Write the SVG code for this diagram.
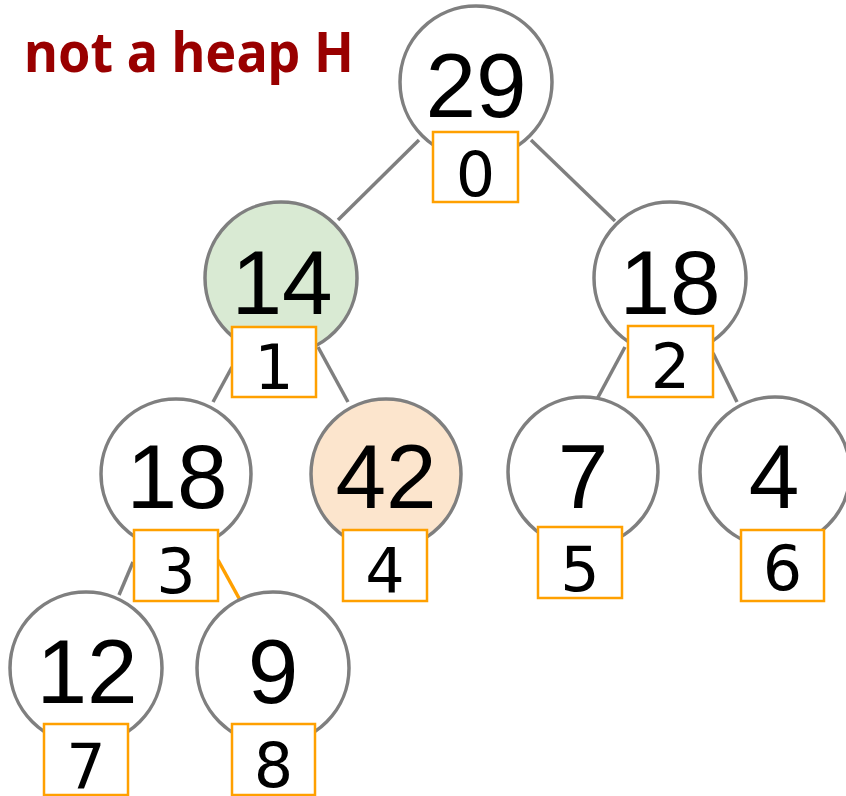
<svg xmlns="http://www.w3.org/2000/svg" width="846" height="796" viewBox="0 0 846 796">
<style>
.c{stroke:#7f7f7f;stroke-width:3.5;fill:#ffffff}
.g{fill:#d9ead3}
.o{fill:#fce5cd}
.b{stroke:#ffa000;stroke-width:2.5;fill:#ffffff}
.v{font-family:"Liberation Sans",Arial,sans-serif;font-size:91px;fill:#000;text-anchor:middle}
.i{font-family:"DejaVu Sans",Verdana,sans-serif;font-size:62px;fill:#000;text-anchor:middle}
.e{stroke:#7f7f7f;stroke-width:3.5;fill:none}
.eo{stroke:#ffa000;stroke-width:3.5;fill:none}
.t{font-family:"Noto Sans","DejaVu Sans",sans-serif;font-weight:bold;font-size:56px;fill:#990000}
</style>
<text class="t" x="24" y="72" textLength="330" lengthAdjust="spacingAndGlyphs">not a heap H</text>
<g id="connectors">
<line class="e" x1="419" y1="140" x2="338" y2="220"/>
<line class="e" x1="531" y1="140" x2="615" y2="221"/>
<line class="e" x1="232" y1="367" x2="213" y2="402"/>
<line class="e" x1="318" y1="347" x2="348" y2="402"/>
<line class="e" x1="625" y1="347" x2="596" y2="401"/>
<line class="e" x1="713" y1="353" x2="737" y2="402"/>
<line class="e" x1="133" y1="562" x2="119" y2="595"/>
<line class="eo" x1="218" y1="560" x2="240" y2="600"/>
</g>
<g id="n0">
<circle class="c" cx="476" cy="82" r="76"/>
<text class="v" x="476" y="117">29</text>
<rect class="b" x="433" y="132" width="85" height="70"/>
<text class="i" x="475.5" y="196">0</text>
</g>
<g id="n1">
<circle class="c g" cx="281" cy="278" r="76"/>
<text class="v" x="282" y="314">14</text>
<rect class="b" x="232" y="327" width="84" height="70"/>
<text class="i" x="274" y="389">1</text>
</g>
<g id="n2">
<circle class="c" cx="670" cy="278" r="76"/>
<text class="v" x="670" y="314">18</text>
<rect class="b" x="628" y="326" width="85" height="71"/>
<text class="i" x="670.5" y="388">2</text>
</g>
<g id="n3">
<circle class="c" cx="176" cy="474" r="75"/>
<text class="v" x="177" y="508">18</text>
<rect class="b" x="134" y="530" width="84" height="71"/>
<text class="i" x="176" y="593">3</text>
</g>
<g id="n4">
<circle class="c o" cx="386" cy="474" r="75"/>
<text class="v" x="386" y="508">42</text>
<rect class="b" x="343" y="530" width="84" height="71"/>
<text class="i" x="385" y="593">4</text>
</g>
<g id="n5">
<circle class="c" cx="583" cy="472" r="75"/>
<text class="v" x="583" y="508">7</text>
<rect class="b" x="538" y="527" width="84" height="71"/>
<text class="i" x="580" y="591">5</text>
</g>
<g id="n6">
<circle class="c" cx="775" cy="472" r="75"/>
<text class="v" x="774" y="508">4</text>
<rect class="b" x="741" y="530" width="83" height="71"/>
<text class="i" x="782.5" y="590">6</text>
</g>
<g id="n7">
<circle class="c" cx="86" cy="668" r="76"/>
<text class="v" x="87" y="703">12</text>
<rect class="b" x="44" y="724" width="84" height="71"/>
<text class="i" x="86" y="788">7</text>
</g>
<g id="n8">
<circle class="c" cx="273" cy="668" r="76"/>
<text class="v" x="273" y="703">9</text>
<rect class="b" x="232" y="724" width="83" height="71"/>
<text class="i" x="273.5" y="787">8</text>
</g>
</svg>
